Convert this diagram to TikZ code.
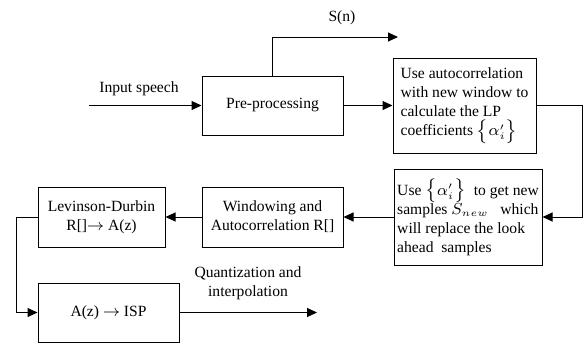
\documentclass[tikz,border=0pt]{standalone}
\usepackage{fontspec}
\setmainfont{Liberation Serif}
\usetikzlibrary{arrows.meta}
\tikzset{
  blk/.style={draw, line width=0.5pt, inner sep=1.5pt, align=center, font=\fontsize{7.8}{9.6}\selectfont},
  txt/.style={align=center, inner sep=0pt, font=\fontsize{7.8}{9.6}\selectfont},
  flow/.style={-{Triangle[length=5pt,width=4.5pt]}, line width=0.5pt},
}
\begin{document}
\begin{tikzpicture}[x=0.5pt,y=-0.5pt]
		\useasboundingbox (0,0) rectangle (587,343);
		% blocks
		\node [blk, minimum width=70.5pt, minimum height=29.5pt] (pre) at (272.5,105.5) {Pre-processing};
		\node [blk, minimum width=71.5pt, minimum height=47.5pt, align=left] (lp) at (464.5,105.5) {Use autocorrelation\\with new window to\\calculate the LP\\coefficients $\bigl\{\alpha_i'\bigr\}$};
		\node [blk, minimum width=74pt, minimum height=48pt, align=left] (use) at (468,217) {Use $\bigl\{\alpha_i'\bigr\}$\ \ to get new\\samples $S_{new}$\ \ \ which\\will replace the look\\ahead\ \ samples};
		\node [blk, minimum width=70.5pt, minimum height=30pt] (win) at (272.5,217) {Windowing and\\Autocorrelation R[]};
		\node [blk, minimum width=63.5pt, minimum height=30pt] (lev) at (101.5,217) {Levinson-Durbin\\R[]$\rightarrow$ A(z)};
		\node [blk, minimum width=70.5pt, minimum height=29.5pt] (isp) at (108.5,312.5) {A(z) $\rightarrow$ ISP};
		% free ends
		\coordinate (in) at (89,105.5);
		\coordinate (sn) at (398,37);
		\coordinate (qout) at (317,312.5);
		% connectors
		\draw [flow] (in) -- (pre);
		\draw [flow] (pre.north) |- (sn);
		\draw [flow] (pre) -- (lp);
		\draw [flow] (lp.east) -- ++(46,0) |- (use.east);
		\draw [flow] (use) -- (win);
		\draw [flow] (win) -- (lev);
		\draw [flow] (lev.west) -- ++(-21,0) |- (isp.west);
		\draw [flow] (isp) -- (qout);
		% labels
		\node [txt] (inlbl) at (139,89) {Input speech};
		\node [txt] (snlbl) at (342,18) {S(n)};
		\node [txt] (qlbl) at (248,283) {Quantization and\\interpolation};
	\end{tikzpicture}
\end{document}
